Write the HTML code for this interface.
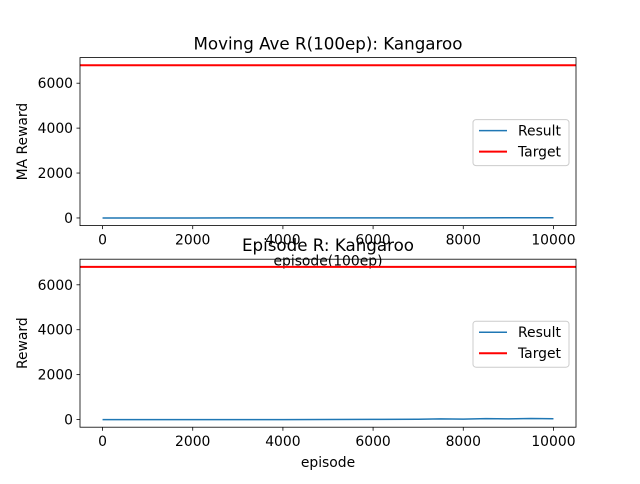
<!DOCTYPE html>
<html><head><meta charset="utf-8"><style>
body{margin:0;background:#fff;font-family:"DejaVu Sans","Liberation Sans",sans-serif}
svg text{font-family:"DejaVu Sans","Liberation Sans",sans-serif}
</style></head><body>
<svg id="c" width="640" height="480" xmlns="http://www.w3.org/2000/svg"></svg>
<script>
const xTicks=[0,2000,4000,6000,8000,10000];
const yTicks=[0,2000,4000,6000];
const targetValue=6800;
const maEpisodes=[0,1000,2000,3000,4000,5000,6000,7000,8000,9000,10000];
const maValues=[0,1,1,2,2,3,4,5,6,8,10];
const epEpisodes=[0,1000,2000,3000,4000,5000,6000,7000,7500,8000,8500,9000,9500,10000];
const epValues=[0,0,0,0,0,5,10,15,30,20,40,30,45,35];
const titles=["Moving Ave R(100ep): Kangaroo","Episode R: Kangaroo"];
const ylabels=["MA Reward","Reward"];
const xlabels=["episode(100ep)","episode"];
const svg=document.getElementById('c');
const NS="http://www.w3.org/2000/svg";
function mk(t,a,p){const e=document.createElementNS(NS,t);for(const k in a)e.setAttribute(k,a[k]);(p||svg).appendChild(e);return e;}
const L=80,R=576,xmin=-500,xmax=10500,ymin=-340,ymax=7140;
const xs=v=>L+(v-xmin)/(xmax-xmin)*(R-L);
function draw(i,top,bot,ex,ey){
 const ys=v=>bot-(v-ymin)/(ymax-ymin)*(bot-top);
 const g=mk('g',{});
 
 
 const t=mk('line',{x1:L,x2:R,y1:ys(targetValue),y2:ys(targetValue),stroke:'#ff0000','stroke-width':2},g);
 
 const p=mk('polyline',{points:ex.map((x,j)=>xs(x)+','+ys(ey[j])).join(' '),fill:'none',stroke:'#1f77b4','stroke-width':1.5},g);
 
 mk('rect',{x:L,y:top,width:R-L,height:bot-top,fill:'none',stroke:'#000','stroke-width':0.8},g);
 xTicks.forEach(v=>{mk('line',{x1:xs(v),x2:xs(v),y1:bot,y2:bot+3.5,stroke:'#000','stroke-width':0.8},g);
  const tx=mk('text',{x:xs(v),y:bot+19,'text-anchor':'middle','font-size':13.9},g);tx.textContent=v;
  });
 yTicks.forEach(v=>{mk('line',{x1:L-3.5,x2:L,y1:ys(v),y2:ys(v),stroke:'#000','stroke-width':0.8},g);
  const tx=mk('text',{x:L-7,y:ys(v)+5,'text-anchor':'end','font-size':13.9},g);tx.textContent=v;
  });
 const ti=mk('text',{x:(L+R)/2,y:top-8,'text-anchor':'middle','font-size':16.7},g);ti.textContent=titles[i];
 
 const yl=mk('text',{x:0,y:0,'text-anchor':'middle','font-size':13.9,transform:`translate(27,${(top+bot)/2}) rotate(-90)`},g);yl.textContent=ylabels[i];
 
 const xl=mk('text',{x:(L+R)/2,y:bot+40,'text-anchor':'middle','font-size':13.9},g);xl.textContent=xlabels[i];
 
 const lg=mk('g',{},g);
 const ly=(top+bot)/2-22;
 mk('rect',{x:473,y:ly,width:96,height:46,rx:3,fill:'#fff','fill-opacity':0.8,stroke:'#ccc'},lg);
 mk('line',{x1:479,x2:507,y1:ly+11,y2:ly+11,stroke:'#1f77b4','stroke-width':1.5},lg);
 mk('line',{x1:479,x2:507,y1:ly+32,y2:ly+32,stroke:'#ff0000','stroke-width':2},lg);
 const a=mk('text',{x:518,y:ly+16,'font-size':13.9},lg);a.textContent='Result';
 
 const b=mk('text',{x:518,y:ly+37,'font-size':13.9},lg);b.textContent='Target';
 
}
draw(0,57.6,225.6,maEpisodes,maValues);
draw(1,259.2,427.2,epEpisodes,epValues);
</script></body></html>
